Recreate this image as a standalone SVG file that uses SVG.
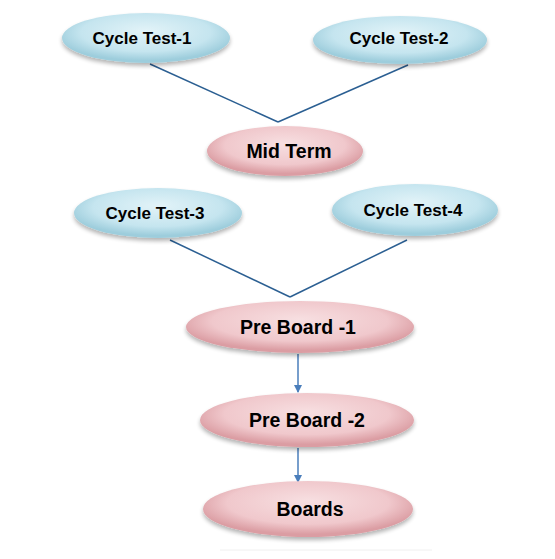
<svg xmlns="http://www.w3.org/2000/svg" width="555" height="559" viewBox="0 0 555 559">
<defs>
  <radialGradient id="blue" cx="50%" cy="40%" r="55%" fx="50%" fy="35%">
    <stop offset="0" stop-color="#e2f3f8"/>
    <stop offset="0.7" stop-color="#c5e5ef"/>
    <stop offset="1" stop-color="#9dcddc"/>
  </radialGradient>
  <radialGradient id="pink" cx="50%" cy="40%" r="55%" fx="50%" fy="35%">
    <stop offset="0" stop-color="#f7dfe1"/>
    <stop offset="0.7" stop-color="#f0c8cc"/>
    <stop offset="1" stop-color="#db9da3"/>
  </radialGradient>
  <filter id="sh" x="-10%" y="-20%" width="120%" height="150%">
    <feGaussianBlur in="SourceAlpha" stdDeviation="2"/>
    <feOffset dy="3" result="b"/>
    <feComponentTransfer><feFuncA type="linear" slope="0.3"/></feComponentTransfer>
    <feMerge><feMergeNode/><feMergeNode in="SourceGraphic"/></feMerge>
  </filter>
  <marker id="arr" markerWidth="8" markerHeight="8" refX="7" refY="4" orient="auto" markerUnits="userSpaceOnUse">
    <path d="M0,0 L8,4 L0,8 z" fill="#4a7ebb"/>
  </marker>
</defs>
<style>
  .b { fill: url(#blue); filter: url(#sh); }
  .p { fill: url(#pink); filter: url(#sh); }
  .t { font-family: "Liberation Sans", Arial, sans-serif; font-weight: bold; fill: #000; text-anchor: middle; }
  .s { font-size: 17px; }
  .l { font-size: 19.5px; }
  .ln { stroke: #2b5f92; stroke-width: 1.5; fill: none; }
  .ar { stroke: #4a7ebb; stroke-width: 1.5; fill: none; marker-end: url(#arr); }
</style>
<rect width="555" height="559" fill="#fff"/>
<line x1="220" y1="550" x2="432" y2="550" stroke="#f0f0f0" stroke-width="1"/>
<g id="connectors">
  <line class="ln" x1="150" y1="64" x2="278" y2="122"/>
  <line class="ln" x1="408" y1="65" x2="278" y2="122"/>
  <line class="ln" x1="170" y1="240" x2="290" y2="297"/>
  <line class="ln" x1="407" y1="240" x2="290" y2="297"/>
  <line class="ar" x1="298" y1="354" x2="298" y2="392"/>
  <line class="ar" x1="298" y1="448" x2="298" y2="482"/>
</g>
<g id="ct1"><ellipse class="b" cx="146" cy="38" rx="84" ry="25"/><text class="t s" x="142" y="44">Cycle Test-1</text></g>
<g id="ct2"><ellipse class="b" cx="400" cy="40" rx="87" ry="24"/><text class="t s" x="399" y="44">Cycle Test-2</text></g>
<g id="mid"><ellipse class="p" cx="285" cy="151" rx="78" ry="25"/><text class="t l" x="289" y="158">Mid Term</text></g>
<g id="ct3"><ellipse class="b" cx="158" cy="213" rx="84" ry="25"/><text class="t s" x="155" y="219">Cycle Test-3</text></g>
<g id="ct4"><ellipse class="b" cx="415" cy="210" rx="83" ry="26"/><text class="t s" x="413" y="216">Cycle Test-4</text></g>
<g id="pb1"><ellipse class="p" cx="300" cy="327" rx="114" ry="26"/><text class="t l" x="298" y="334">Pre Board -1</text></g>
<g id="pb2"><ellipse class="p" cx="307" cy="420" rx="107" ry="27"/><text class="t l" x="307" y="427">Pre Board -2</text></g>
<g id="boards"><ellipse class="p" cx="308" cy="509" rx="105" ry="28"/><text class="t l" x="310" y="516">Boards</text></g>
</svg>
